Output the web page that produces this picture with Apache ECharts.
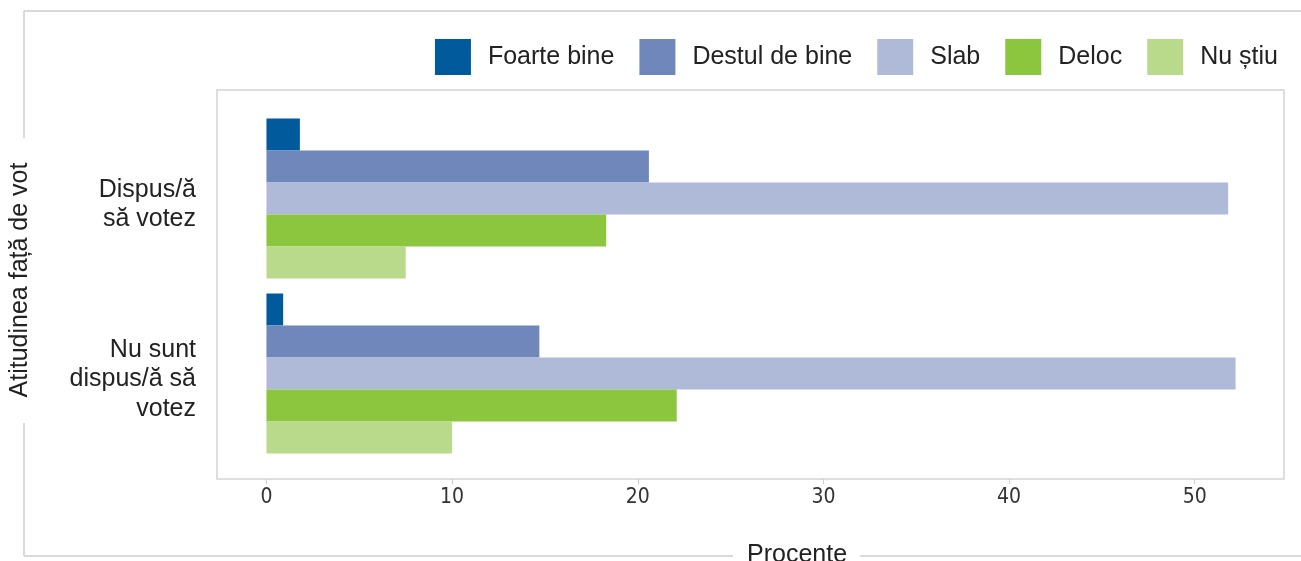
<!DOCTYPE html>
<html>
<head>
<meta charset="utf-8">
<script src="https://cdn.jsdelivr.net/npm/echarts@6/dist/echarts.min.js"></script>
<style>
  html, body { margin: 0; padding: 0; background: #fff; }
  #chart { width: 1301px; height: 561px; }
</style>
</head>
<body>
<div id="chart"></div>
<script>
// categories (top to bottom)
const categories = ['Dispus/ă\nsă votez', 'Nu sunt\ndispus/ă să\nvotez']
const seriesNames = ['Foarte bine', 'Destul de bine', 'Slab', 'Deloc', 'Nu știu']
const foarteBine = [1.8, 0.9]
const destulDeBine = [20.6, 14.7]
const slab = [51.8, 52.2]
const deloc = [18.3, 22.1]
const nuStiu = [7.5, 10.0]
const xTicks = [0, 10, 20, 30, 40, 50]
const colors = ['#005a9c', '#6f87ba', '#aebad8', '#8cc63f', '#b9da8b']

const values = [foarteBine, destulDeBine, slab, deloc, nuStiu]
const font = '"Liberation Sans", Arial, sans-serif'
const frameColor = '#d9d9d9'

const chart = echarts.init(document.getElementById('chart'))

chart.setOption({
  animation: false,
  color: colors,
  textStyle: { fontFamily: font },
  title: {
    text: 'Procente',
    left: 742,
    top: 538,
    textStyle: { fontFamily: font, fontSize: 25, fontWeight: 'normal', color: '#222' }
  },
  legend: {
    right: 18,
    top: 34,
    itemWidth: 36,
    itemHeight: 36,
    itemGap: 25,
    icon: 'rect',
    data: seriesNames,
    textStyle: { fontFamily: font, fontSize: 25, color: '#222', padding: [0, 0, 0, 12] }
  },
  grid: [
    { left: 217, top: 111, width: 1067, height: 350 },
    { left: 217, top: 90, width: 1067, height: 389, show: true, borderColor: '#d4d4d4', borderWidth: 1.5 }
  ],
  xAxis: [
    {
      type: 'value',
      gridIndex: 0,
      min: -2.61,
      max: 54.81,
      offset: 18,
      axisLine: { show: false },
      splitLine: { show: false },
      axisTick: { show: true, length: 5, lineStyle: { color: '#cccccc' }, customValues: xTicks },
      axisLabel: {
        customValues: xTicks,
        margin: 8,
        fontFamily: '"Liberation Sans Narrow", "DejaVu Sans Condensed", sans-serif',
        fontSize: 21,
        color: '#333'
      }
    },
    { type: 'value', gridIndex: 1, show: false, min: 0, max: 1 }
  ],
  yAxis: [
    {
      type: 'category',
      gridIndex: 0,
      inverse: true,
      data: categories,
      name: 'Atitudinea față de vot',
      nameLocation: 'middle',
      nameRotate: 90,
      nameGap: 185,
      nameTextStyle: { fontFamily: font, fontSize: 25, color: '#222', padding: [0, 0, 0, 12] },
      axisLine: { show: false },
      axisTick: { show: false },
      axisLabel: {
        margin: 22,
        align: 'right',
        formatter: v => '{p|}\n' + v.split('\n').map(s => '{c|' + s + '}').join('\n'),
        rich: {
          c: { fontFamily: font, fontSize: 25, lineHeight: 29.5, color: '#222', align: 'right' },
          p: { fontSize: 1, lineHeight: 12 }
        }
      }
    },
    { type: 'value', gridIndex: 1, show: false, min: 0, max: 1 }
  ],
  series: seriesNames.map((name, i) => ({
    name: name,
    type: 'bar',
    xAxisIndex: 0,
    yAxisIndex: 0,
    data: values[i],
    barWidth: 32,
    barGap: '0%',
    itemStyle: { color: colors[i] }
  })),
  graphic: [
    { type: 'line', shape: { x1: 24, y1: 11, x2: 1301, y2: 11 }, style: { stroke: frameColor, lineWidth: 2 }, silent: true },
    { type: 'line', shape: { x1: 24, y1: 11, x2: 24, y2: 138 }, style: { stroke: frameColor, lineWidth: 2 }, silent: true },
    { type: 'line', shape: { x1: 24, y1: 423, x2: 24, y2: 556 }, style: { stroke: frameColor, lineWidth: 2 }, silent: true },
    { type: 'line', shape: { x1: 24, y1: 556, x2: 733, y2: 556 }, style: { stroke: frameColor, lineWidth: 2 }, silent: true },
    { type: 'line', shape: { x1: 860, y1: 556, x2: 1301, y2: 556 }, style: { stroke: frameColor, lineWidth: 2 }, silent: true }
  ]
})
</script>
</body>
</html>
